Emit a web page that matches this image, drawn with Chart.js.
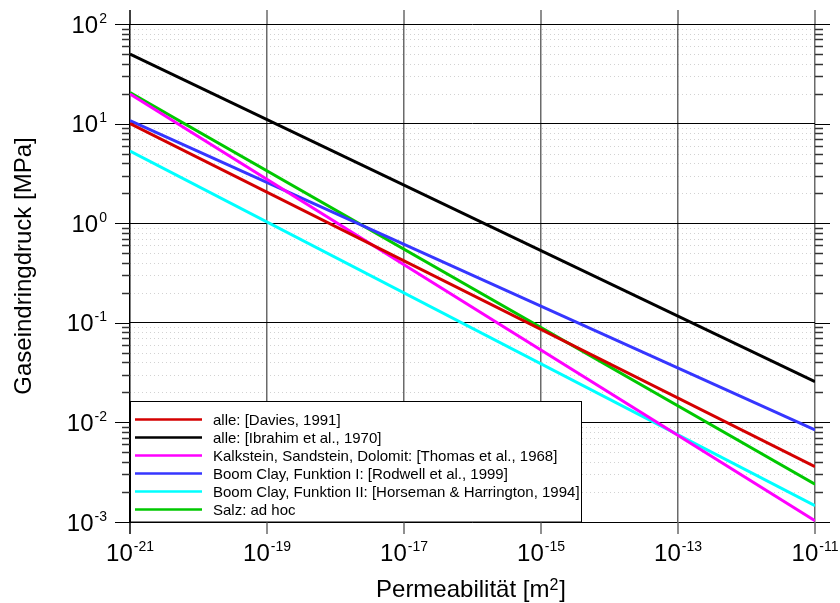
<!DOCTYPE html>
<html>
<head>
<meta charset="utf-8">
<script src="https://cdn.jsdelivr.net/npm/chart.js@4"></script>
<style>
  html, body { margin: 0; padding: 0; background: #fff; }
  #wrap { width: 840px; height: 603px; }
</style>
</head>
<body>
<div id="wrap"><canvas id="druck" width="840" height="603"></canvas></div>
<script>
// Permeabilität [m²] an beiden Enden der Geraden
const permeabilitaet = [1e-21, 1e-11];

const namen = [
  "alle: [Davies, 1991]",
  "alle: [Ibrahim et al., 1970]",
  "Kalkstein, Sandstein, Dolomit: [Thomas et al., 1968]",
  "Boom Clay, Funktion I: [Rodwell et al., 1999]",
  "Boom Clay, Funktion II: [Horseman & Harrington, 1994]",
  "Salz: ad hoc"
];

// Gaseindringdruck [MPa]
const davies = [10, 0.0036];
const ibrahim = [50, 0.0256];
const thomas = [19.8, 0.00103];
const rodwell = [10.7, 0.0084];
const horseman = [5.3, 0.00146];
const salz = [20.5, 0.0024];

const farben = ["#d40000", "#000000", "#ff00ff", "#3636ff", "#00ffff", "#00c800"];

const xExponenten = [-21, -19, -17, -15, -13, -11];
const yExponenten = [-3, -2, -1, 0, 1, 2];

const reihen = [davies, ibrahim, thomas, rodwell, horseman, salz];

const FONT = "'Liberation Sans', Arial, Helvetica, sans-serif";

const istDekade = v => Math.abs(Math.log10(v) - Math.round(Math.log10(v))) < 1e-6;

function potenz(ctx, exp, x, y, align) {
  ctx.font = "24px " + FONT;
  const wBasis = ctx.measureText("10").width;
  ctx.font = "14px " + FONT;
  const wExp = ctx.measureText(String(exp)).width;
  const w = wBasis + wExp + 1;
  const start = align === "right" ? x - w : x - w / 2;
  ctx.textAlign = "left";
  ctx.textBaseline = "alphabetic";
  ctx.font = "24px " + FONT;
  ctx.fillText("10", start, y);
  ctx.font = "14px " + FONT;
  ctx.fillText(String(exp), start + wBasis + 1, y - 10);
}

function linie(ctx, x1, y1, x2, y2) {
  ctx.beginPath();
  ctx.moveTo(x1, y1);
  ctx.lineTo(x2, y2);
  ctx.stroke();
}

const deko = {
  id: "deko",
  beforeDraw(chart) {
    const { ctx, chartArea: a, scales: { y } } = chart;
    ctx.save();
    // gepunktete Zwischenlinien, unter dem Gitter
    ctx.strokeStyle = "#d2d2d2";
    ctx.lineWidth = 1;
    ctx.setLineDash([1, 3]);
    y.ticks.forEach(t => {
      if (istDekade(t.value)) return;
      const py = Math.round(y.getPixelForValue(t.value)) + 0.5;
      linie(ctx, a.left, py, a.right, py);
    });
    ctx.restore();
  },
  afterDraw(chart) {
    const { ctx, chartArea: a, scales: { x, y } } = chart;
    ctx.save();

    // Striche links und rechts der y-Achse
    y.ticks.forEach(t => {
      const major = istDekade(t.value);
      const py = Math.round(y.getPixelForValue(t.value)) + 0.5;
      const len = major ? 15 : 8;
      ctx.strokeStyle = major ? "#000" : "#333";
      ctx.lineWidth = major ? 1 : 1.5;
      linie(ctx, a.left - len, py, a.left, py);
      linie(ctx, a.right, py, a.right + len, py);
    });

    // senkrechte Linien oben und unten verlängert
    x.ticks.forEach(t => {
      const px = x.getPixelForValue(t.value);
      ctx.strokeStyle = t.value < 2e-21 ? "#000" : "#6a6a6a";
      ctx.lineWidth = 1.5;
      linie(ctx, px, a.top - 14, px, a.top);
      linie(ctx, px, a.bottom, px, a.bottom + 12);
    });

    // Beschriftung der Achsen
    ctx.fillStyle = "#000";
    yExponenten.forEach(e => {
      const py = y.getPixelForValue(Math.pow(10, e));
      potenz(ctx, e, 107, py + 8.5, "right");
    });
    xExponenten.forEach(e => {
      const px = x.getPixelForValue(Math.pow(10, e));
      potenz(ctx, e, px, 560.5, "center");
    });

    // Achsentitel
    ctx.font = "24px " + FONT;
    ctx.textBaseline = "alphabetic";
    ctx.save();
    ctx.translate(31, 266);
    ctx.rotate(-Math.PI / 2);
    ctx.textAlign = "center";
    ctx.fillText("Gaseindringdruck [MPa]", 0, 0);
    ctx.restore();

    const teil1 = "Permeabilität [m";
    const teil2 = "2";
    const teil3 = "]";
    const w1 = ctx.measureText(teil1).width;
    const w3 = ctx.measureText(teil3).width;
    ctx.font = "16px " + FONT;
    const w2 = ctx.measureText(teil2).width;
    let sx = 471 - (w1 + w2 + w3 + 1) / 2;
    ctx.textAlign = "left";
    ctx.font = "24px " + FONT;
    ctx.fillText(teil1, sx, 597);
    ctx.font = "16px " + FONT;
    ctx.fillText(teil2, sx + w1, 590);
    ctx.font = "24px " + FONT;
    ctx.fillText(teil3, sx + w1 + w2 + 1, 597);

    // Legende
    const lx = a.left + 0.5, ly = 401.5, lw = 451, lh = a.bottom - ly;
    ctx.fillStyle = "#fff";
    ctx.fillRect(lx, ly, lw, lh);
    ctx.strokeStyle = "#000";
    ctx.lineWidth = 1;
    ctx.strokeRect(lx, ly, lw, lh);
    ctx.font = "15px " + FONT;
    ctx.textBaseline = "middle";
    chart.data.datasets.forEach((ds, i) => {
      const ry = 419.5 + i * 18;
      ctx.strokeStyle = ds.borderColor;
      ctx.lineWidth = 2.5;
      linie(ctx, 135, ry, 202, ry);
      ctx.fillStyle = "#000";
      ctx.fillText(ds.label, 213, ry + 1);
    });

    ctx.restore();
  }
};

new Chart(document.getElementById("druck"), {
  type: "scatter",
  data: {
    datasets: reihen.map((werte, i) => ({
      label: namen[i],
      data: permeabilitaet.map((k, j) => ({ x: k, y: werte[j] })),
      showLine: true,
      borderColor: farben[i],
      backgroundColor: farben[i],
      borderWidth: 3,
      pointRadius: 0
    }))
  },
  options: {
    responsive: false,
    animation: false,
    layout: { padding: { top: 24, right: 25, left: 0, bottom: 0 } },
    plugins: {
      legend: { display: false },
      tooltip: { enabled: false }
    },
    scales: {
      x: {
        type: "logarithmic",
        min: 1e-21,
        max: 1e-11,
        afterBuildTicks: s => { s.ticks = xExponenten.map(e => ({ value: Math.pow(10, e) })); },
        afterFit: s => { s.height = 81; },
        ticks: { display: false },
        border: { display: false },
        grid: {
          drawTicks: false,
          color: c => (c.tick && c.tick.value < 2e-21 ? "#000" : "#6a6a6a"),
          lineWidth: 1.5
        }
      },
      y: {
        type: "logarithmic",
        min: 1e-3,
        max: 1e2,
        afterBuildTicks: s => {
          const t = [];
          for (let e = -3; e <= 2; e++) {
            for (let m = 1; m <= 9; m++) {
              if (e === 2 && m > 1) break;
              t.push({ value: m * Math.pow(10, e) });
            }
          }
          s.ticks = t;
        },
        afterFit: s => { s.width = 130; },
        ticks: { display: false },
        border: { display: false },
        grid: {
          drawTicks: false,
          color: c => (c.tick && istDekade(c.tick.value) ? "#000" : "rgba(0,0,0,0)"),
          lineWidth: 1
        }
      }
    }
  },
  plugins: [deko]
});
</script>
</body>
</html>
